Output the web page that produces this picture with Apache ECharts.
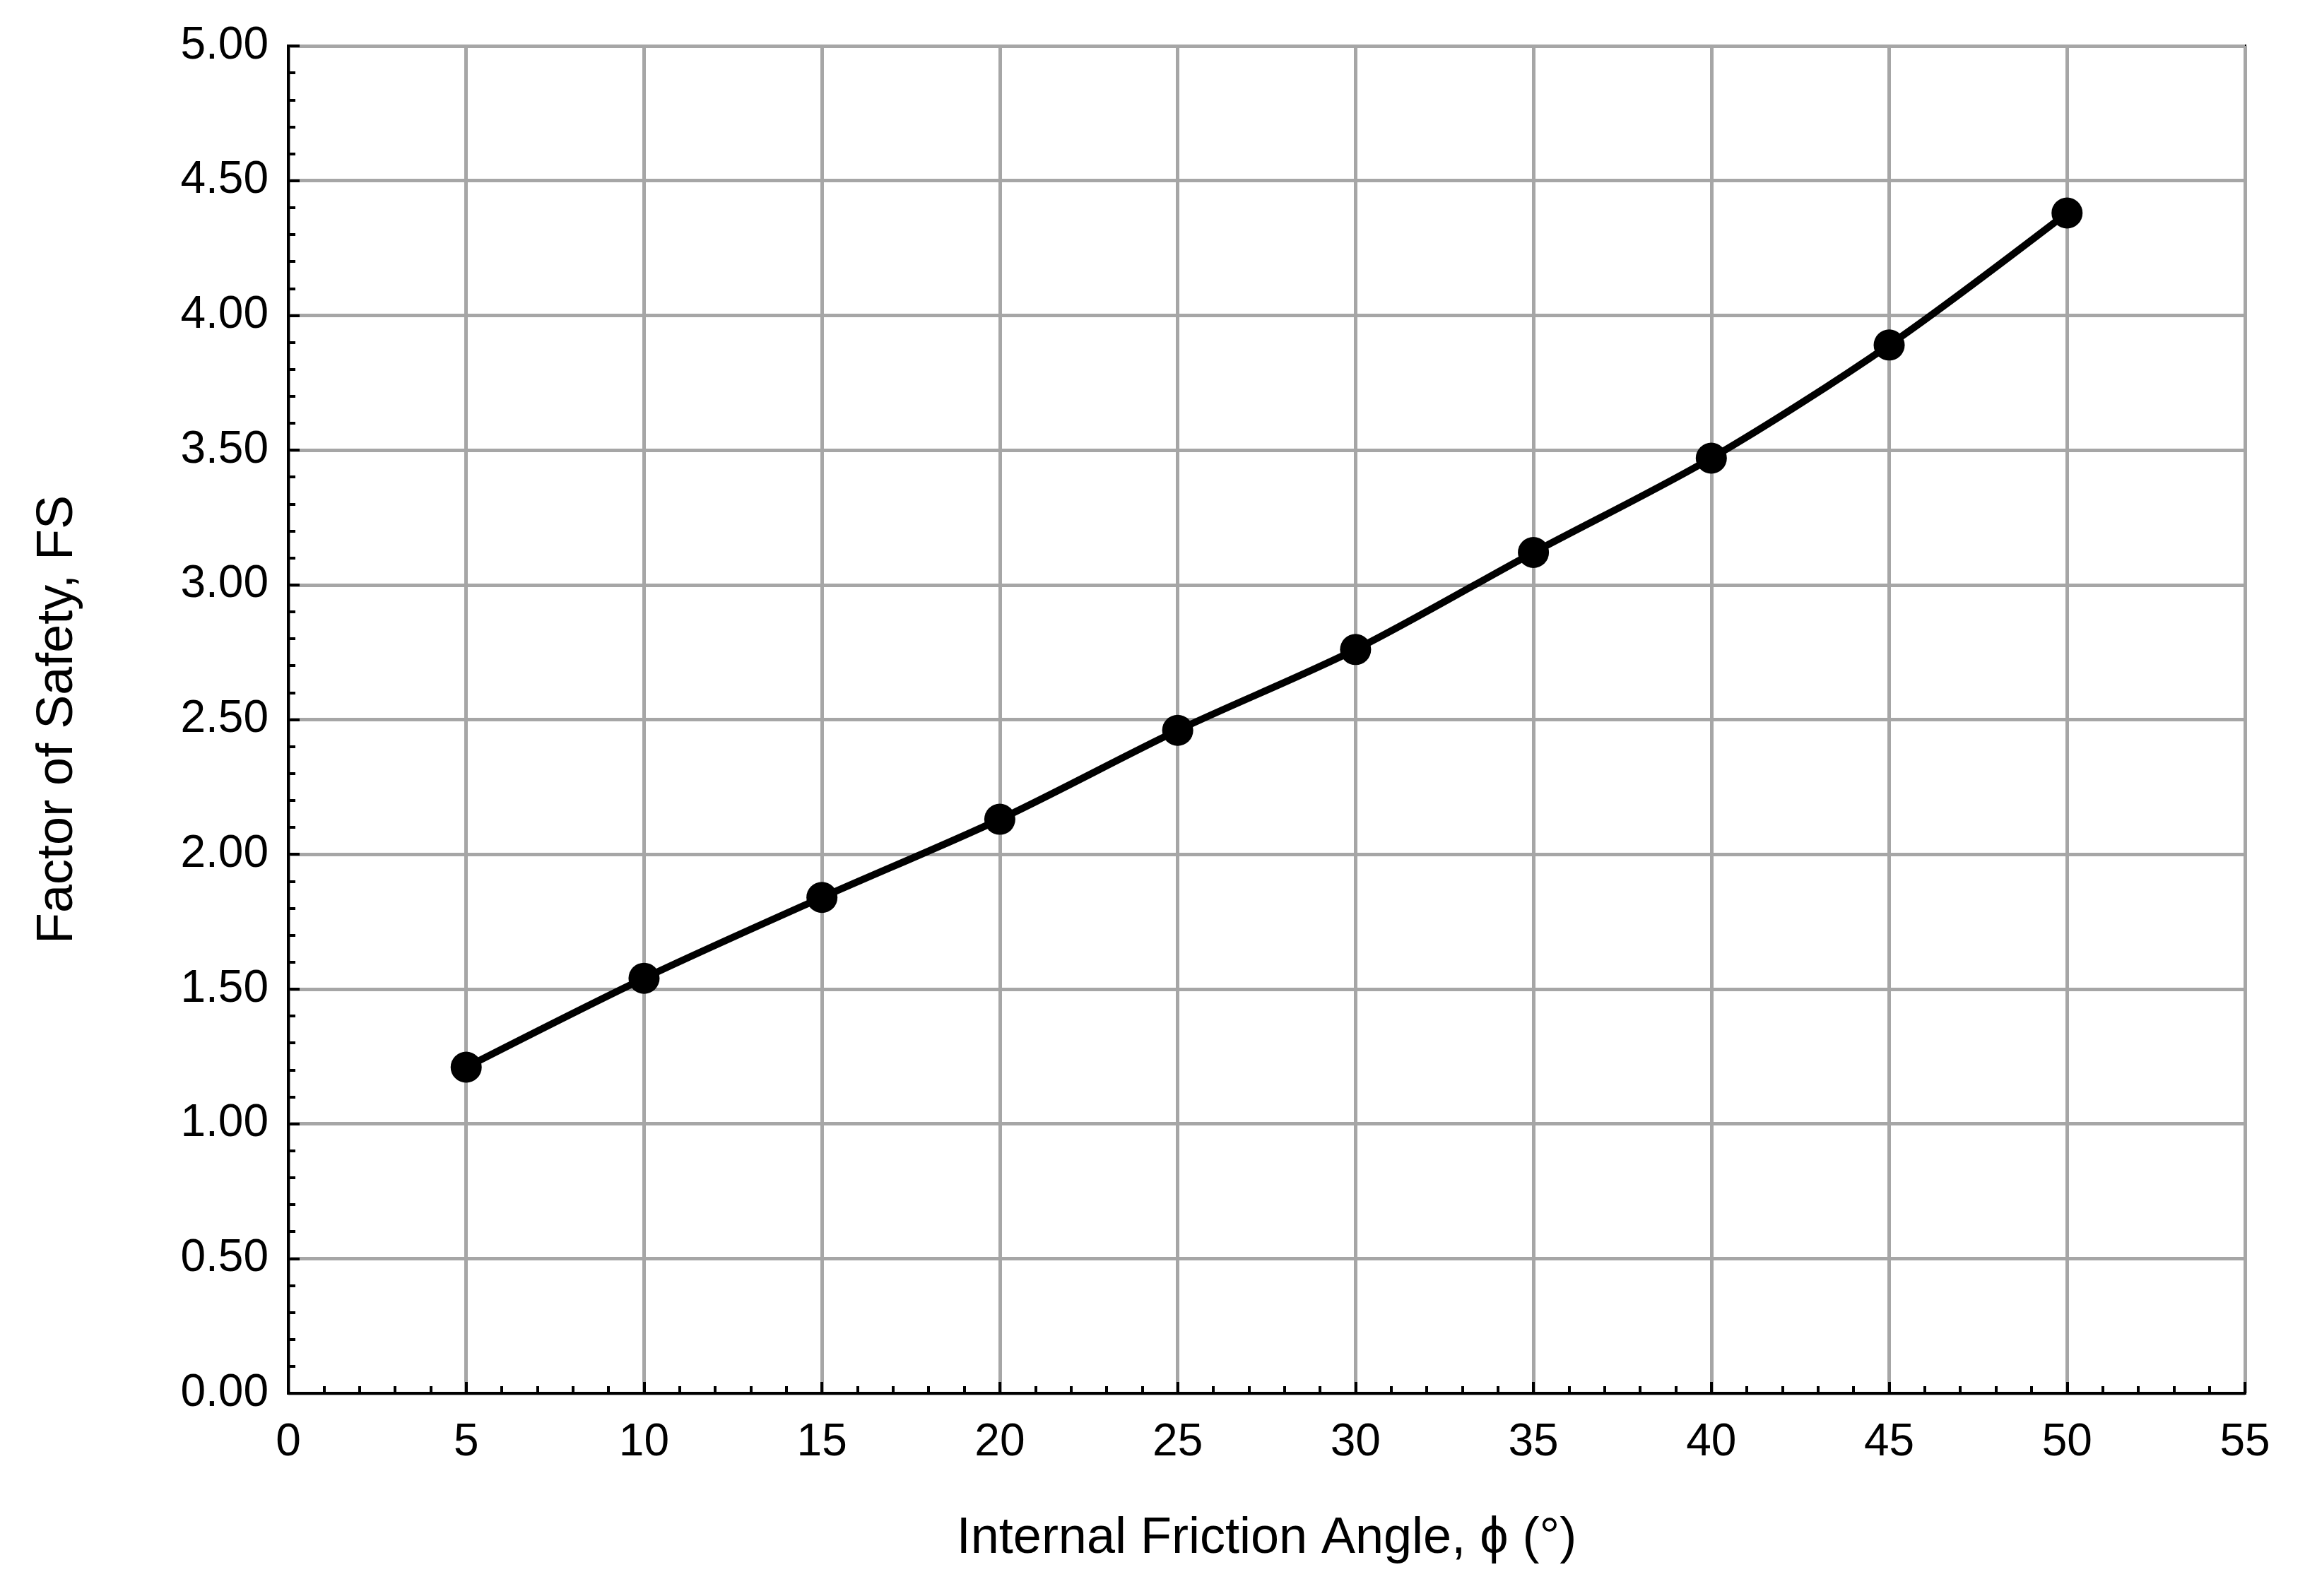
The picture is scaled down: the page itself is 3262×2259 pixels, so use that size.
<!DOCTYPE html>
<html><head><meta charset="utf-8">
<script src="https://cdn.jsdelivr.net/npm/echarts@6/dist/echarts.min.js"></script>
<style>html,body{margin:0;padding:0;background:#fff}#c{width:3262px;height:2259px}</style>
</head><body><div id="c"></div>
<script>
const angles = [5, 10, 15, 20, 25, 30, 35, 40, 45, 50];
const fsValues = [1.21, 1.54, 1.84, 2.13, 2.46, 2.76, 3.12, 3.47, 3.89, 4.38];
const xTitle = 'Internal Friction Angle, \u03D5 (\u00B0)';
const yTitle = 'Factor of Safety, FS';
const font = '"Liberation Sans", Arial, sans-serif';
const chart = echarts.init(document.getElementById('c'));
chart.setOption({
  animation: false,
  grid: {left: 408, right: 85, top: 65, bottom: 287, show: true, borderColor: '#000', borderWidth: 4},
  xAxis: {
    type: 'value', min: 0, max: 55, interval: 5,
    name: xTitle, nameLocation: 'middle', nameGap: 170,
    nameTextStyle: {fontFamily: font, fontSize: 72, color: '#000'},
    axisLine: {lineStyle: {color: '#000', width: 4}},
    axisTick: {inside: true, length: 16, lineStyle: {color: '#000', width: 4}},
    minorTick: {show: true, splitNumber: 5, length: 10, lineStyle: {color: '#000', width: 4}},
    axisLabel: {fontFamily: font, fontSize: 64, color: '#000', margin: 38},
    splitLine: {show: true, lineStyle: {color: '#a6a6a6', width: 5}}
  },
  yAxis: {
    type: 'value', min: 0, max: 5, interval: 0.5,
    name: yTitle, nameLocation: 'middle', nameGap: 290,
    nameTextStyle: {fontFamily: font, fontSize: 72, color: '#000'},
    axisLine: {show: true, lineStyle: {color: '#000', width: 4}},
    axisTick: {show: true, inside: true, length: 16, lineStyle: {color: '#000', width: 4}},
    minorTick: {show: true, splitNumber: 5, length: 10, lineStyle: {color: '#000', width: 4}},
    axisLabel: {fontFamily: font, fontSize: 64, color: '#000', margin: 28, formatter: v => v.toFixed(2)},
    splitLine: {show: true, lineStyle: {color: '#a6a6a6', width: 5}}
  },
  series: [{
    type: 'line', smooth: 0.3,
    data: angles.map((a, i) => [a, fsValues[i]]),
    symbol: 'circle', symbolSize: 44,
    lineStyle: {color: '#000', width: 10},
    itemStyle: {color: '#000'}
  }]
});
</script></body></html>
